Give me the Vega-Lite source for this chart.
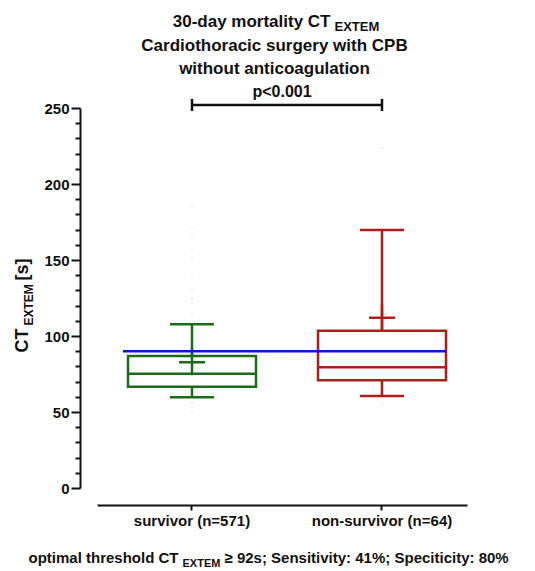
{
  "$schema": "https://vega.github.io/schema/vega-lite/v6.json",
  "width": 370,
  "height": 380,
  "autosize": {"type": "none"},
  "padding": {"left": 97, "top": 108, "right": 68, "bottom": 83},
  "background": "white",
  "config": {"view": {"stroke": null}, "font": "Liberation Sans", "axis": {"grid": false}},
  "datasets": {
    "stats": [
      {"group": "survivor (n=571)", "lower": 59.7, "q1": 66.6, "median": 75.2, "q3": 86.8, "upper": 107.7, "mean": 82.7},
      {"group": "non-survivor (n=64)", "lower": 60.5, "q1": 70.9, "median": 79.4, "q3": 103.5, "upper": 169.7, "mean": 112.0}
    ],
    "outliers": [
      {"group": "survivor (n=571)", "value": 184.4},
      {"group": "survivor (n=571)", "value": 171.9},
      {"group": "survivor (n=571)", "value": 166.4},
      {"group": "survivor (n=571)", "value": 156.6},
      {"group": "survivor (n=571)", "value": 151.1},
      {"group": "survivor (n=571)", "value": 141.2},
      {"group": "survivor (n=571)", "value": 131.4},
      {"group": "survivor (n=571)", "value": 124.8},
      {"group": "survivor (n=571)", "value": 121.5},
      {"group": "survivor (n=571)", "value": 115.4},
      {"group": "survivor (n=571)", "value": 109.4},
      {"group": "survivor (n=571)", "value": 55.9},
      {"group": "survivor (n=571)", "value": 53.0},
      {"group": "survivor (n=571)", "value": 50.2},
      {"group": "non-survivor (n=64)", "value": 223.7},
      {"group": "non-survivor (n=64)", "value": 58.5},
      {"group": "non-survivor (n=64)", "value": 55.0}
    ],
    "pairs": [
      {"group": "survivor (n=571)", "lo": 248, "hi": 256},
      {"group": "non-survivor (n=64)", "lo": 248, "hi": 256}
    ],
    "bracket": [
      {"from": "survivor (n=571)", "to": "non-survivor (n=64)", "y": 252, "ty": 257, "label": "p<0.001"}
    ],
    "threshold": [
      {"from": "survivor (n=571)", "to": "non-survivor (n=64)", "value": 90}
    ]
  },
  "resolve": {"axis": {"x": "independent", "y": "independent"}},
  "layer": [
    {
      "data": {"name": "outliers"},
      "mark": {"type": "circle", "size": 4, "color": "#ececec", "opacity": 1},
      "encoding": {
        "x": {"field": "group", "type": "nominal",
          "scale": {"type": "band", "domain": ["survivor (n=571)", "non-survivor (n=64)"], "paddingInner": 0.1526, "paddingOuter": 0.05, "align": 0.763},
          "axis": {"orient": "top", "domain": false, "ticks": false, "labels": false, "title": "30-day mortality CT", "titleFontSize": 17, "titleFontWeight": "bold", "titleColor": "#111", "titleAlign": "right", "titleBaseline": "alphabetic", "titleAngle": 0, "titleX": 233, "titleY": -82}},
        "y": {"field": "value", "type": "quantitative", "scale": {"domain": [0, 250], "nice": false, "zero": false}, "axis": null}
      }
    },
    {
      "data": {"name": "stats"},
      "mark": {"type": "rule", "strokeWidth": 2.5, "opacity": 1},
      "encoding": {
        "x": {"field": "group", "type": "nominal",
          "axis": {"orient": "top", "domain": false, "ticks": false, "labels": false, "title": "EXTEM", "titleFontSize": 13, "titleFontWeight": "bold", "titleColor": "#111", "titleAlign": "left", "titleBaseline": "alphabetic", "titleAngle": 0, "titleX": 237, "titleY": -78}},
        "y": {"field": "q3", "type": "quantitative",
          "axis": {"orient": "left", "offset": 17, "values": [10, 20, 30, 40, 60, 70, 80, 90, 110, 120, 130, 140, 160, 170, 180, 190, 210, 220, 230, 240], "domain": false, "labels": false, "ticks": true, "tickSize": 5, "tickWidth": 2, "tickColor": "#111", "title": "EXTEM", "titleFontSize": 12, "titleFontWeight": "bold", "titleColor": "#111", "titleAngle": 270, "titleAlign": "left", "titleBaseline": "alphabetic", "titleX": -48, "titleY": 217}},
        "y2": {"field": "upper"},
        "color": {"field": "group", "type": "nominal", "scale": {"domain": ["survivor (n=571)", "non-survivor (n=64)"], "range": ["#1b6b1b", "#b31b1b"]}, "legend": null}
      }
    },
    {
      "data": {"name": "stats"},
      "mark": {"type": "rule", "strokeWidth": 2.5, "opacity": 1},
      "encoding": {
        "x": {"field": "group", "type": "nominal",
          "axis": {"orient": "top", "domain": false, "ticks": false, "labels": false, "title": ["Cardiothoracic surgery with CPB", "without anticoagulation"], "titleFontSize": 17, "titleFontWeight": "bold", "titleColor": "#111", "titleLineHeight": 23, "titleAlign": "center", "titleBaseline": "alphabetic", "titleAngle": 0, "titleX": 177, "titleY": -58}},
        "y": {"field": "lower", "type": "quantitative",
          "axis": {"orient": "left", "offset": 17, "domain": false, "labels": false, "ticks": false, "title": "[s]", "titleFontSize": 18, "titleFontWeight": "bold", "titleColor": "#111", "titleAngle": 270, "titleAlign": "left", "titleBaseline": "alphabetic", "titleX": -53, "titleY": 172}},
        "y2": {"field": "q1"},
        "color": {"field": "group", "type": "nominal", "legend": null}
      }
    },
    {
      "data": {"name": "stats"},
      "mark": {"type": "bar", "size": 128, "fill": "white", "strokeWidth": 2.5, "opacity": 1},
      "encoding": {
        "x": {"field": "group", "type": "nominal",
          "axis": {"orient": "bottom", "offset": 17, "domainColor": "#111", "domainWidth": 2, "tickColor": "#111", "tickWidth": 2, "tickSize": 5, "labelFontSize": 15, "labelFontWeight": "bold", "labelColor": "#111", "labelPadding": 3, "labelAngle": 0, "title": null}},
        "y": {"field": "q1", "type": "quantitative",
          "axis": {"orient": "left", "offset": 17, "values": [0, 50, 100, 150, 200, 250], "domainColor": "#111", "domainWidth": 2, "tickColor": "#111", "tickWidth": 2, "tickSize": 9, "labelFontSize": 15, "labelFontWeight": "bold", "labelColor": "#111", "labelPadding": 2, "title": "CT", "titleFontSize": 18, "titleFontWeight": "bold", "titleColor": "#111", "titleAngle": 270, "titleAlign": "left", "titleBaseline": "alphabetic", "titleX": -53, "titleY": 244}},
        "y2": {"field": "q3"},
        "stroke": {"field": "group", "type": "nominal", "scale": {"domain": ["survivor (n=571)", "non-survivor (n=64)"], "range": ["#1b6b1b", "#b31b1b"]}, "legend": null}
      }
    },
    {
      "data": {"name": "stats"},
      "mark": {"type": "tick", "size": 44, "thickness": 2.5, "opacity": 1},
      "encoding": {
        "x": {"field": "group", "type": "nominal",
          "axis": {"orient": "bottom", "domain": false, "ticks": false, "labels": false, "title": "optimal threshold CT", "titleFontSize": 15, "titleFontWeight": "bold", "titleColor": "#111", "titleAlign": "right", "titleBaseline": "alphabetic", "titleAngle": 0, "titleX": 81, "titleY": 74}},
        "y": {"field": "upper", "type": "quantitative", "axis": null},
        "color": {"field": "group", "type": "nominal", "legend": null}
      }
    },
    {
      "data": {"name": "stats"},
      "mark": {"type": "tick", "size": 44, "thickness": 2.5, "opacity": 1},
      "encoding": {
        "x": {"field": "group", "type": "nominal",
          "axis": {"orient": "bottom", "domain": false, "ticks": false, "labels": false, "title": "EXTEM", "titleFontSize": 11, "titleFontWeight": "bold", "titleColor": "#111", "titleAlign": "left", "titleBaseline": "alphabetic", "titleAngle": 0, "titleX": 85, "titleY": 78}},
        "y": {"field": "lower", "type": "quantitative", "axis": null},
        "color": {"field": "group", "type": "nominal", "legend": null}
      }
    },
    {
      "data": {"name": "stats"},
      "mark": {"type": "tick", "size": 128, "thickness": 2.5, "opacity": 1},
      "encoding": {
        "x": {"field": "group", "type": "nominal",
          "axis": {"orient": "bottom", "domain": false, "ticks": false, "labels": false, "title": "≥ 92s; Sensitivity: 41%; Speciticity: 80%", "titleFontSize": 15, "titleFontWeight": "bold", "titleColor": "#111", "titleAlign": "left", "titleBaseline": "alphabetic", "titleAngle": 0, "titleX": 127, "titleY": 74}},
        "y": {"field": "median", "type": "quantitative", "axis": null},
        "color": {"field": "group", "type": "nominal", "legend": null}
      }
    },
    {
      "data": {"name": "stats"},
      "mark": {"type": "point", "shape": "M-1,0H1M0,-1V1", "size": 676, "filled": false, "strokeWidth": 2.5, "opacity": 1},
      "encoding": {
        "x": {"field": "group", "type": "nominal", "axis": null},
        "y": {"field": "mean", "type": "quantitative", "axis": null},
        "color": {"field": "group", "type": "nominal", "legend": null}
      }
    },
    {
      "data": {"name": "threshold"},
      "mark": {"type": "rule", "color": "#0b16d6", "strokeWidth": 2.5, "opacity": 1, "xOffset": -69, "x2Offset": 64},
      "encoding": {
        "x": {"field": "from", "type": "nominal", "axis": null},
        "x2": {"field": "to"},
        "y": {"field": "value", "type": "quantitative", "axis": null}
      }
    },
    {
      "data": {"name": "bracket"},
      "mark": {"type": "rule", "color": "#111", "strokeWidth": 2.5, "opacity": 1},
      "encoding": {
        "x": {"field": "from", "type": "nominal", "axis": null},
        "x2": {"field": "to"},
        "y": {"field": "y", "type": "quantitative", "axis": null}
      }
    },
    {
      "data": {"name": "pairs"},
      "mark": {"type": "rule", "color": "#111", "strokeWidth": 2.5, "opacity": 1},
      "encoding": {
        "x": {"field": "group", "type": "nominal", "axis": null},
        "y": {"field": "lo", "type": "quantitative", "axis": null},
        "y2": {"field": "hi"}
      }
    },
    {
      "data": {"name": "bracket"},
      "mark": {"type": "text", "fontSize": 16, "fontWeight": "bold", "color": "#111", "align": "center", "baseline": "alphabetic", "dx": 90},
      "encoding": {
        "x": {"field": "from", "type": "nominal", "axis": null},
        "y": {"field": "ty", "type": "quantitative", "axis": null},
        "text": {"field": "label"}
      }
    }
  ]
}
